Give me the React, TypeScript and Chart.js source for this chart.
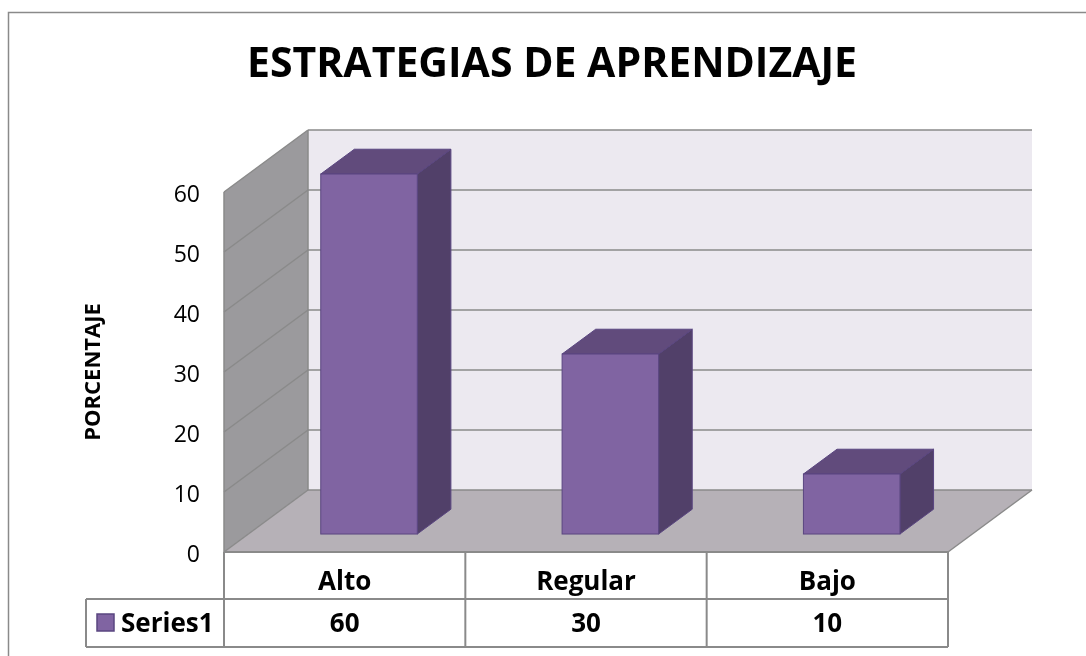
import React, { useEffect, useRef } from "react";
import { Chart, registerables } from "chart.js";

Chart.register(...registerables);

const chartTitle = "ESTRATEGIAS DE APRENDIZAJE";
const yAxisTitle = "PORCENTAJE";
const categories = ["Alto", "Regular", "Bajo"];
const seriesName = "Series1";
const seriesValues = [60, 30, 10];
const yTicks = [0, 10, 20, 30, 40, 50, 60];

const FONT = "'Open Sans', 'DejaVu Sans', sans-serif";
const DEPTH_X = 84;
const DEPTH_Y = -62;
const BAR_FRONT = 0.29;
const BAR_BACK = 0.69;

const threeDPlugin = {
  id: "threeD",
  afterDraw(chart: any) {
    const ctx = chart.ctx as CanvasRenderingContext2D;
    const { left: L, right: R, top: T, bottom: B } = chart.chartArea;
    const yScale = chart.scales.y;
    const xScale = chart.scales.x;
    const dx = DEPTH_X;
    const dy = DEPTH_Y;
    ctx.save();

    // outer border
    ctx.strokeStyle = "#8a8a8a";
    ctx.lineWidth = 1.5;
    ctx.beginPath();
    ctx.moveTo(8.5, 660);
    ctx.lineTo(8.5, 12.5);
    ctx.lineTo(1090, 12.5);
    ctx.stroke();

    // title
    ctx.fillStyle = "#000";
    ctx.font = `bold 41px ${FONT}`;
    ctx.textAlign = "center";
    ctx.textBaseline = "alphabetic";
    ctx.fillText(chartTitle, 552, 77);

    // back wall
    ctx.fillStyle = "#ece9f0";
    ctx.fillRect(L + dx, T + dy, R - L, B - T);
    // left wall
    ctx.fillStyle = "#9b9a9d";
    ctx.beginPath();
    ctx.moveTo(L, T);
    ctx.lineTo(L + dx, T + dy);
    ctx.lineTo(L + dx, B + dy);
    ctx.lineTo(L, B);
    ctx.closePath();
    ctx.fill();
    // floor
    ctx.fillStyle = "#b6b1b7";
    ctx.beginPath();
    ctx.moveTo(L, B);
    ctx.lineTo(R, B);
    ctx.lineTo(R + dx, B + dy);
    ctx.lineTo(L + dx, B + dy);
    ctx.closePath();
    ctx.fill();

    // gridlines
    ctx.strokeStyle = "#8a8a8a";
    ctx.lineWidth = 1.5;
    yTicks.forEach((v) => {
      const py = yScale.getPixelForValue(v);
      ctx.beginPath();
      ctx.moveTo(L + dx, py + dy);
      ctx.lineTo(R + dx, py + dy);
      ctx.stroke();
      ctx.beginPath();
      ctx.moveTo(L, py);
      ctx.lineTo(L + dx, py + dy);
      ctx.stroke();
    });
    // wall edges
    ctx.beginPath();
    ctx.moveTo(L + dx, T + dy);
    ctx.lineTo(L + dx, B + dy);
    ctx.stroke();
    ctx.beginPath();
    ctx.moveTo(L, T);
    ctx.lineTo(L, B);
    ctx.stroke();
    ctx.beginPath();
    ctx.moveTo(R, B);
    ctx.lineTo(R + dx, B + dy);
    ctx.stroke();

    // bars
    const meta = chart.getDatasetMeta(0);
    meta.data.forEach((el: any) => {
      const { x, y, base, width } = el.getProps(["x", "y", "base", "width"], true);
      const l = x - width / 2;
      const r = x + width / 2;
      const fx = BAR_FRONT * dx, fy = BAR_FRONT * dy;
      const bx = BAR_BACK * dx, by = BAR_BACK * dy;
      ctx.lineWidth = 1;
      ctx.strokeStyle = "#5a4680";
      // side
      ctx.fillStyle = "#514069";
      ctx.beginPath();
      ctx.moveTo(r + fx, y + fy);
      ctx.lineTo(r + bx, y + by);
      ctx.lineTo(r + bx, base + by);
      ctx.lineTo(r + fx, base + fy);
      ctx.closePath();
      ctx.fill();
      ctx.stroke();
      // top
      ctx.fillStyle = "#614b7c";
      ctx.beginPath();
      ctx.moveTo(l + fx, y + fy);
      ctx.lineTo(r + fx, y + fy);
      ctx.lineTo(r + bx, y + by);
      ctx.lineTo(l + bx, y + by);
      ctx.closePath();
      ctx.fill();
      ctx.stroke();
      // front
      ctx.fillStyle = "#8064a2";
      ctx.fillRect(l + fx, y + fy, r - l, base - y);
      ctx.strokeRect(l + fx, y + fy, r - l, base - y);
    });

    // y tick labels
    ctx.fillStyle = "#000";
    ctx.font = `23px ${FONT}`;
    ctx.textAlign = "right";
    ctx.textBaseline = "alphabetic";
    yTicks.forEach((v) => {
      const py = yScale.getPixelForValue(v);
      ctx.fillText(String(v), 200, py + 9.5);
    });

    // axis title
    ctx.save();
    ctx.translate(100, 372);
    ctx.rotate(-Math.PI / 2);
    ctx.font = `bold 22px ${FONT}`;
    ctx.textAlign = "center";
    ctx.fillText(yAxisTitle, 0, 0);
    ctx.restore();

    // data table
    const rowTop = B;
    const rowMid = 599;
    const rowBot = 647;
    const legendLeft = 86;
    ctx.strokeStyle = "#8a8a8a";
    ctx.lineWidth = 2;
    ctx.beginPath();
    ctx.moveTo(L, rowTop);
    ctx.lineTo(R, rowTop);
    ctx.moveTo(legendLeft, rowMid);
    ctx.lineTo(R, rowMid);
    ctx.moveTo(legendLeft, rowBot);
    ctx.lineTo(R, rowBot);
    ctx.moveTo(legendLeft, rowMid);
    ctx.lineTo(legendLeft, rowBot);
    ctx.moveTo(L, rowTop);
    ctx.lineTo(L, rowBot);
    ctx.stroke();
    const n = categories.length;
    const colW = (R - L) / n;
    for (let i = 1; i <= n; i++) {
      ctx.beginPath();
      ctx.moveTo(L + colW * i, rowTop);
      ctx.lineTo(L + colW * i, rowBot);
      ctx.stroke();
    }
    ctx.fillStyle = "#000";
    ctx.font = `bold 26px ${FONT}`;
    ctx.textAlign = "center";
    categories.forEach((c, i) => {
      const cx = xScale.getPixelForValue(i);
      ctx.fillText(c, cx, 590);
      ctx.fillText(String(seriesValues[i]), cx, 632);
    });
    // legend key
    ctx.fillStyle = "#8064a2";
    ctx.fillRect(97, 614, 17, 17);
    ctx.strokeStyle = "#5a4680";
    ctx.lineWidth = 1.5;
    ctx.strokeRect(97, 614, 17, 17);
    ctx.fillStyle = "#000";
    ctx.textAlign = "left";
    ctx.fillText(seriesName, 121, 632);

    ctx.restore();
  },
};

export default function App() {
  const ref = useRef<HTMLCanvasElement>(null);
  useEffect(() => {
    if (!ref.current) return;
    const chart = new Chart(ref.current, {
      type: "bar",
      data: {
        labels: categories,
        datasets: [
          {
            label: seriesName,
            data: seriesValues,
            backgroundColor: "rgba(0,0,0,0)",
            borderWidth: 0,
            barPercentage: 0.4,
            categoryPercentage: 1,
          },
        ],
      },
      options: {
        animation: false,
        responsive: false,
        devicePixelRatio: 1,
        layout: { padding: { left: 224, right: 138, top: 192, bottom: 104 } },
        plugins: { legend: { display: false }, title: { display: false }, tooltip: { enabled: false } },
        scales: {
          x: { display: false, offset: true },
          y: { display: false, min: 0, max: 60 },
        },
      },
      plugins: [threeDPlugin],
    });
    return () => chart.destroy();
  }, []);
  return (
    <div style={{ position: "absolute", left: 0, top: 0, width: 1086, height: 656, background: "#fff" }}>
      <canvas ref={ref} width={1086} height={656} />
    </div>
  );
}
